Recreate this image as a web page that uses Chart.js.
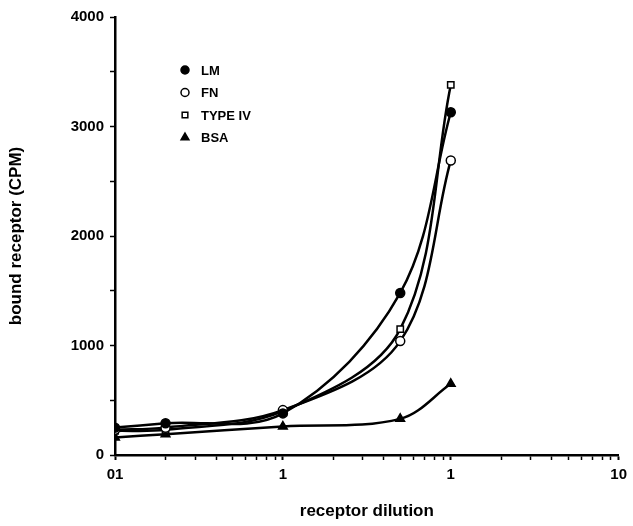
<!DOCTYPE html>
<html>
<head>
<meta charset="utf-8">
<script src="https://cdn.jsdelivr.net/npm/chart.js@4"></script>
<style>
body { margin: 0; background: #fff; }
</style>
</head>
<body>
<canvas id="grafico" width="633" height="526"></canvas>
<script>
// data
var dilution = [0.01, 0.02, 0.1, 0.5, 1];
var lm = [250, 290, 380, 1480, 3130];
var fn = [230, 250, 410, 1040, 2690];
var typeIV = [220, 230, 400, 1150, 3380];
var bsa = [160, 190, 260, 330, 650];

var seriesNames = ['LM', 'FN', 'TYPE IV', 'BSA'];
var xTickLabels = { '0.01': '01', '0.1': '1', '1': '1', '10': '10' };
var yTickLabels = [0, 1000, 2000, 3000, 4000];

var fonte = '"Liberation Sans", Arial, sans-serif';

function pontos(valores) {
    return dilution.map(function (d, i) { return { x: d, y: valores[i] }; });
}

function serie(nome, valores, estilo, preenchido) {
    return {
        label: nome,
        data: pontos(valores),
        borderColor: '#000',
        borderWidth: 2.5,
        pointStyle: estilo,
        pointRadius: estilo === 'triangle' ? 5 : 4.5,
        pointBorderWidth: 1.5,
        pointBackgroundColor: preenchido ? '#000' : '#fff',
        pointBorderColor: '#000',
        tension: 0.35,
        fill: false
    };
}

// legend drawn inside the plot, top left
const legendaInterna = {
    id: 'legendaInterna',
    afterDatasetsDraw(chart) {
        const c = chart.ctx;
        const sets = chart.data.datasets;
        c.save();
        c.font = 'bold 13px ' + fonte;
        c.textBaseline = 'middle';
        for (let i = 0; i < sets.length; i++) {
            let y = 70 + i * 22.5;
            c.fillStyle = sets[i].pointBackgroundColor;
            c.strokeStyle = '#000';
            c.lineWidth = 1.5;
            Chart.helpers.drawPoint(c, { pointStyle: sets[i].pointStyle, radius: sets[i].pointRadius - 0.5, borderWidth: 1.5 }, 185, y);
            c.fillStyle = '#000';
            c.fillText(sets[i].label, 201, y + 1);
        }
        c.restore();
    }
};

const ctx = document.getElementById('grafico');

new Chart(ctx, {
    type: 'line',
    data: {
        datasets: [
            serie(seriesNames[0], lm, 'circle', true),
            serie(seriesNames[1], fn, 'circle', false),
            serie(seriesNames[2], typeIV, 'rect', false),
            serie(seriesNames[3], bsa, 'triangle', true)
        ]
    },
    options: {
        responsive: false,
        animation: false,
        devicePixelRatio: 1,
        layout: { padding: { top: 17, right: 13, left: 0, bottom: 0 } },
        plugins: {
            legend: { display: false },
            tooltip: { enabled: false }
        },
        scales: {
            x: {
                type: 'logarithmic',
                min: 0.01,
                max: 10,
                afterBuildTicks: function (scale) {
                    var t = [];
                    [0.01, 0.1, 1].forEach(function (dec) {
                        for (var k = 1; k < 10; k++) t.push({ value: +(dec * k).toPrecision(3) });
                    });
                    t.push({ value: 10 });
                    scale.ticks = t;
                },
                afterFit: function (scale) { scale.height = 71; },
                ticks: {
                    autoSkip: false,
                    maxRotation: 0,
                    color: '#000',
                    padding: 6,
                    font: { family: fonte, size: 15, weight: 'bold' },
                    callback: function (value) {
                        var s = String(+value.toPrecision(3));
                        return xTickLabels[s] !== undefined ? xTickLabels[s] : '';
                    }
                },
                grid: {
                    drawOnChartArea: false,
                    drawTicks: true,
                    tickLength: 5,
                    tickColor: '#000',
                    tickWidth: function (c) {
                        var s = String(+c.tick.value.toPrecision(3));
                        return xTickLabels[s] !== undefined ? 2 : 1.5;
                    }
                },
                border: { display: true, color: '#000', width: 2.5 },
                title: {
                    display: true,
                    text: 'receptor dilution',
                    color: '#000',
                    padding: { top: 12 },
                    font: { family: fonte, size: 17, weight: 'bold' }
                }
            },
            y: {
                min: 0,
                max: 4000,
                afterFit: function (scale) { scale.width = 115; },
                ticks: {
                    stepSize: 500,
                    color: '#000',
                    padding: 6,
                    font: { family: fonte, size: 15, weight: 'bold' },
                    callback: function (value) {
                        return yTickLabels.indexOf(value) >= 0 ? String(value) : '';
                    }
                },
                grid: {
                    drawOnChartArea: false,
                    drawTicks: true,
                    tickLength: 5,
                    tickColor: '#000',
                    tickWidth: 1.5
                },
                border: { display: true, color: '#000', width: 2.5 },
                title: {
                    display: true,
                    text: 'bound receptor (CPM)',
                    color: '#000',
                    padding: { top: 6, bottom: 10 },
                    font: { family: fonte, size: 17, weight: 'bold' }
                }
            }
        }
    },
    plugins: [legendaInterna]
});
</script>
</body>
</html>
